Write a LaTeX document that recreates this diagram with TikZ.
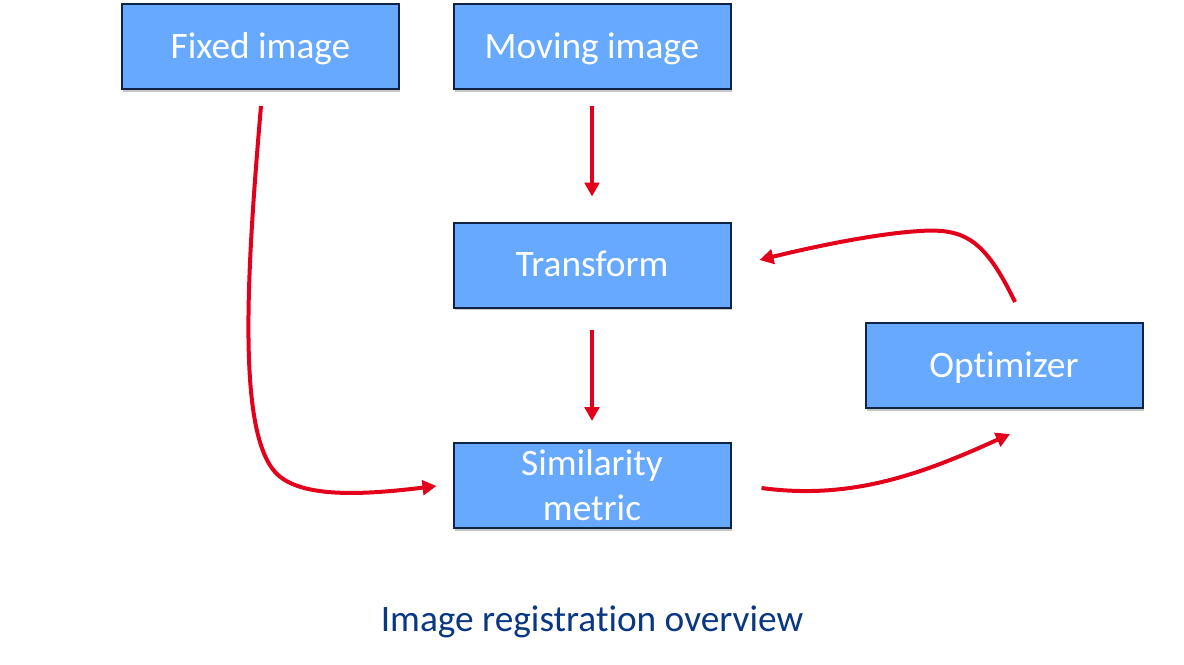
\documentclass[tikz,border=0pt]{standalone}
\usepackage{fontspec}
\setmainfont{Carlito}[Ligatures={NoCommon,NoContextual},RawFeature={-liga;-clig;-calt;-dlig}]
\usetikzlibrary{arrows.meta,calc,shadows}
\definecolor{boxfill}{RGB}{102,169,255}
\definecolor{boxline}{RGB}{14,36,66}
\definecolor{arrred}{RGB}{227,0,27}
\definecolor{titleblue}{RGB}{10,55,130}
\newcommand{\nolig}{\kern0pt{}}
\begin{document}
\begin{tikzpicture}[x=0.75pt,y=-0.75pt,
  blockbox/.style={draw=boxline,line width=1.5pt,fill=boxfill,text=white,
    minimum width=207.75pt,minimum height=63.75pt,inner sep=0pt,align=center,
    font=\fontsize{28}{33.5}\selectfont,
    drop shadow={shadow xshift=1pt,shadow yshift=-2pt,opacity=0.22,fill=black}},
  oneline/.style={text height=23.5pt,text depth=5.6pt},
  redarrow/.style={draw=arrred,line width=3pt,-{Triangle[length=10.5pt,width=11pt]}}]
\useasboundingbox (0,0) rectangle (1184,664);
\node[blockbox,oneline] (fix) at (260.5,46.5) {Fixed image};
\node[blockbox,oneline] (mov) at (592,46.5) {Moving image};
\node[blockbox,oneline] (tr) at (592,265) {Transform};
\node[blockbox] (sim) at (592,485.5) {Similarity\\metric};
\node[blockbox,oneline] (opt) at (1004,365.5) {Opt\nolig imizer};
\node[text=titleblue,font=\fontsize{28}{33.5}\selectfont] (title) at (592,622) {Image registrat\nolig ion overview};
\draw[redarrow] ($(mov.south)+(0,16)$) -- ($(tr.north)+(0,-25)$);
\draw[redarrow] ($(tr.south)+(0,21)$) -- ($(sim.north)+(0,-21)$);
\draw[redarrow] ($(fix.south)+(0.5,16)$) .. controls (246,280) and (238,430) .. (275,472)
   .. controls (300,500) and (370,494) .. ($(sim.west)+(-16,0.5)$);
\draw[redarrow] ($(sim.east)+(30,2.5)$) .. controls (850,500) and (920,475) .. ($(opt.south)+(6,25)$);
\draw[redarrow] ($(opt.north)+(11,-20)$) .. controls (985,240) and (965,228) .. (920,231)
   .. controls (870,234) and (800,250) .. ($(tr.east)+(28,-5)$);
\end{tikzpicture}
\end{document}
